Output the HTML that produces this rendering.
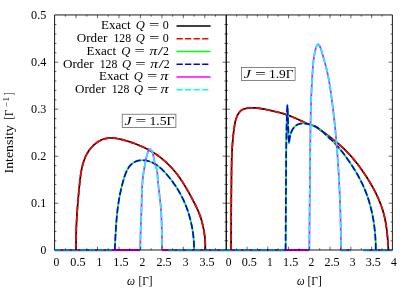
<!DOCTYPE html>
<html><head><meta charset="utf-8"><title>plot</title>
<style>html,body{margin:0;padding:0;background:#fff;overflow:hidden}svg{display:block;opacity:0.999;will-change:transform}text{font-family:"Liberation Serif",serif;fill:#000}.i{font-style:italic}</style></head><body>
<svg width="415" height="291" viewBox="0 0 415 291">
<rect width="415" height="291" fill="#fff"/>
<path d="M54.60,250.10H114.50" stroke="#f0f" stroke-width="2.20"/>
<path d="M54.60,250.10H114.50" stroke="#0ff" stroke-width="2.20" stroke-dasharray="6.25 2.3"/>
<path d="M114.50,250.10H140.00" stroke="#f0f" stroke-width="2.20"/>
<path d="M162.00,250.10H168.50" stroke="#f0f" stroke-width="2.20"/>
<path d="M168.50,250.10H226.25" stroke="#f0f" stroke-width="2.20"/>
<path d="M168.50,250.10H226.25" stroke="#0ff" stroke-width="2.20" stroke-dasharray="6.25 2.3"/>
<path d="M226.25,250.10H285.00" stroke="#f0f" stroke-width="2.20"/>
<path d="M226.25,250.10H285.00" stroke="#0ff" stroke-width="2.20" stroke-dasharray="6.25 2.3"/>
<path d="M285.00,250.10H309.00" stroke="#f0f" stroke-width="2.20"/>
<path d="M340.50,250.10H351.00" stroke="#f0f" stroke-width="2.20"/>
<path d="M340.50,250.10H351.00" stroke="#0ff" stroke-width="2.20" stroke-dasharray="6.25 2.3"/>
<path d="M363.50,250.10H392.40" stroke="#f0f" stroke-width="2.20"/>
<path d="M363.50,250.10H392.40" stroke="#0ff" stroke-width="2.20" stroke-dasharray="6.25 2.3"/>
<path d="M76.05,250.00L76.05,248.66L76.05,247.32L76.05,245.98L76.05,244.65L76.05,243.32L76.05,242.00L76.05,240.68L76.05,239.36L76.07,238.04L76.09,236.73L76.11,235.41L76.14,234.10L76.17,232.80L76.21,231.49L76.25,230.19L76.29,228.88L76.34,227.58L76.39,226.28L76.44,224.99L76.50,223.69L76.56,222.39L76.62,221.10L76.69,219.80L76.76,218.51L76.83,217.22L76.91,215.92L76.99,214.63L77.07,213.34L77.16,212.04L77.24,210.75L77.33,209.45L77.43,208.16L77.52,206.86L77.62,205.57L77.72,204.27L77.83,202.97L77.94,201.67L78.04,200.37L78.16,199.06L78.27,197.76L78.39,196.45L78.51,195.14L78.63,193.83L78.75,192.51L78.87,191.20L79.00,189.88L79.13,188.55L79.26,187.23L79.40,185.90L79.53,184.57L79.67,183.23L79.81,181.90L79.96,180.56L80.11,179.22L80.28,177.88L80.45,176.55L80.63,175.21L80.83,173.88L81.04,172.56L81.27,171.24L81.51,169.93L81.78,168.62L82.06,167.33L82.36,166.04L82.69,164.76L83.05,163.50L83.43,162.24L83.83,161.00L84.27,159.78L84.74,158.57L85.23,157.37L85.77,156.20L86.34,155.04L86.94,153.90L87.58,152.78L88.26,151.68L88.99,150.60L89.75,149.54L90.56,148.51L91.41,147.51L92.31,146.53L93.24,145.60L94.20,144.69L95.21,143.84L96.24,143.02L97.31,142.26L98.40,141.54L99.52,140.89L100.67,140.29L101.84,139.76L103.03,139.30L104.24,138.91L105.46,138.59L106.70,138.34L107.96,138.16L109.23,138.05L110.51,138.00L111.79,138.01L113.09,138.06L114.40,138.17L115.71,138.33L117.02,138.52L118.34,138.76L119.65,139.03L120.97,139.33L122.29,139.65L123.60,140.00L124.91,140.37L126.22,140.75L127.51,141.15L128.80,141.55L130.08,141.97L131.35,142.39L132.62,142.83L133.87,143.27L135.12,143.73L136.36,144.20L137.59,144.68L138.81,145.17L140.03,145.68L141.23,146.20L142.43,146.73L143.61,147.28L144.79,147.84L145.96,148.42L147.12,149.01L148.27,149.61L149.41,150.23L150.54,150.87L151.66,151.52L152.77,152.19L153.87,152.88L154.96,153.58L156.04,154.30L157.11,155.03L158.17,155.79L159.21,156.56L160.25,157.35L161.28,158.16L162.30,158.98L163.30,159.82L164.30,160.67L165.28,161.54L166.25,162.43L167.21,163.33L168.15,164.24L169.09,165.17L170.01,166.11L170.92,167.06L171.81,168.03L172.70,169.00L173.57,169.99L174.42,170.99L175.27,172.00L176.10,173.03L176.91,174.06L177.72,175.10L178.50,176.15L179.28,177.21L180.04,178.28L180.78,179.36L181.51,180.44L182.23,181.53L182.94,182.63L183.64,183.74L184.32,184.85L185.00,185.97L185.67,187.09L186.33,188.22L186.98,189.35L187.62,190.49L188.26,191.63L188.90,192.77L189.53,193.92L190.16,195.07L190.78,196.22L191.40,197.37L192.02,198.52L192.64,199.68L193.25,200.84L193.87,202.00L194.47,203.16L195.07,204.33L195.65,205.50L196.23,206.68L196.79,207.86L197.34,209.05L197.87,210.25L198.38,211.46L198.87,212.67L199.35,213.90L199.80,215.13L200.24,216.37L200.66,217.61L201.06,218.86L201.44,220.12L201.81,221.38L202.15,222.65L202.48,223.92L202.79,225.20L203.09,226.48L203.36,227.77L203.62,229.06L203.86,230.36L204.08,231.66L204.28,232.96L204.46,234.26L204.63,235.57L204.78,236.88L204.91,238.19L205.02,239.50L205.12,240.81L205.20,242.12L205.26,243.44L205.30,244.75L205.30,246.06L205.30,247.38L205.30,248.69L205.30,250.00" fill="none" stroke="#000" stroke-width="1.70" stroke-linejoin="round"/>
<path d="M76.05,250.00L76.05,248.66L76.05,247.32L76.05,245.98L76.05,244.65L76.05,243.32L76.05,242.00L76.05,240.68L76.05,239.36L76.07,238.04L76.09,236.73L76.11,235.41L76.14,234.10L76.17,232.80L76.21,231.49L76.25,230.19L76.29,228.88L76.34,227.58L76.39,226.28L76.44,224.99L76.50,223.69L76.56,222.39L76.62,221.10L76.69,219.80L76.76,218.51L76.83,217.22L76.91,215.92L76.99,214.63L77.07,213.34L77.16,212.04L77.24,210.75L77.33,209.45L77.43,208.16L77.52,206.86L77.62,205.57L77.72,204.27L77.83,202.97L77.94,201.67L78.04,200.37L78.16,199.06L78.27,197.76L78.39,196.45L78.51,195.14L78.63,193.83L78.75,192.51L78.87,191.20L79.00,189.88L79.13,188.55L79.26,187.23L79.40,185.90L79.53,184.57L79.67,183.23L79.81,181.90L79.96,180.56L80.11,179.22L80.28,177.88L80.45,176.55L80.63,175.21L80.83,173.88L81.04,172.56L81.27,171.24L81.51,169.93L81.78,168.62L82.06,167.33L82.36,166.04L82.69,164.76L83.05,163.50L83.43,162.24L83.83,161.00L84.27,159.78L84.74,158.57L85.23,157.37L85.77,156.20L86.34,155.04L86.94,153.90L87.58,152.78L88.26,151.68L88.99,150.60L89.75,149.54L90.56,148.51L91.41,147.51L92.31,146.53L93.24,145.60L94.20,144.69L95.21,143.84L96.24,143.02L97.31,142.26L98.40,141.54L99.52,140.89L100.67,140.29L101.84,139.76L103.03,139.30L104.24,138.91L105.46,138.59L106.70,138.34L107.96,138.16L109.23,138.05L110.51,138.00L111.79,138.01L113.09,138.06L114.40,138.17L115.71,138.33L117.02,138.52L118.34,138.76L119.65,139.03L120.97,139.33L122.29,139.65L123.60,140.00L124.91,140.37L126.22,140.75L127.51,141.15L128.80,141.55L130.08,141.97L131.35,142.39L132.62,142.83L133.87,143.27L135.12,143.73L136.36,144.20L137.59,144.68L138.81,145.17L140.03,145.68L141.23,146.20L142.43,146.73L143.61,147.28L144.79,147.84L145.96,148.42L147.12,149.01L148.27,149.61L149.41,150.23L150.54,150.87L151.66,151.52L152.77,152.19L153.87,152.88L154.96,153.58L156.04,154.30L157.11,155.03L158.17,155.79L159.21,156.56L160.25,157.35L161.28,158.16L162.30,158.98L163.30,159.82L164.30,160.67L165.28,161.54L166.25,162.43L167.21,163.33L168.15,164.24L169.09,165.17L170.01,166.11L170.92,167.06L171.81,168.03L172.70,169.00L173.57,169.99L174.42,170.99L175.27,172.00L176.10,173.03L176.91,174.06L177.72,175.10L178.50,176.15L179.28,177.21L180.04,178.28L180.78,179.36L181.51,180.44L182.23,181.53L182.94,182.63L183.64,183.74L184.32,184.85L185.00,185.97L185.67,187.09L186.33,188.22L186.98,189.35L187.62,190.49L188.26,191.63L188.90,192.77L189.53,193.92L190.16,195.07L190.78,196.22L191.40,197.37L192.02,198.52L192.64,199.68L193.25,200.84L193.87,202.00L194.47,203.16L195.07,204.33L195.65,205.50L196.23,206.68L196.79,207.86L197.34,209.05L197.87,210.25L198.38,211.46L198.87,212.67L199.35,213.90L199.80,215.13L200.24,216.37L200.66,217.61L201.06,218.86L201.44,220.12L201.81,221.38L202.15,222.65L202.48,223.92L202.79,225.20L203.09,226.48L203.36,227.77L203.62,229.06L203.86,230.36L204.08,231.66L204.28,232.96L204.46,234.26L204.63,235.57L204.78,236.88L204.91,238.19L205.02,239.50L205.12,240.81L205.20,242.12L205.26,243.44L205.30,244.75L205.30,246.06L205.30,247.38L205.30,248.69L205.30,250.00" fill="none" stroke="#f00" stroke-width="1.70" stroke-dasharray="6.8 2.4" stroke-linejoin="round"/>
<path d="M114.80,250.00L114.85,249.02L114.89,248.04L114.94,247.06L114.98,246.08L115.03,245.10L115.07,244.13L115.12,243.16L115.17,242.18L115.21,241.21L115.26,240.24L115.30,239.27L115.35,238.31L115.40,237.34L115.45,236.37L115.50,235.41L115.55,234.45L115.60,233.48L115.66,232.52L115.71,231.56L115.77,230.60L115.82,229.65L115.88,228.69L115.95,227.73L116.01,226.77L116.07,225.82L116.14,224.86L116.21,223.91L116.28,222.95L116.35,222.00L116.43,221.05L116.51,220.10L116.59,219.14L116.67,218.19L116.76,217.24L116.85,216.29L116.94,215.34L117.04,214.39L117.14,213.44L117.24,212.49L117.35,211.54L117.46,210.59L117.57,209.64L117.69,208.69L117.81,207.74L117.93,206.79L118.06,205.84L118.19,204.89L118.33,203.94L118.47,202.99L118.62,202.04L118.77,201.09L118.93,200.14L119.09,199.19L119.25,198.23L119.42,197.28L119.60,196.33L119.78,195.38L119.97,194.42L120.16,193.47L120.35,192.51L120.56,191.56L120.77,190.60L120.98,189.64L121.20,188.68L121.43,187.73L121.66,186.77L121.90,185.81L122.14,184.84L122.39,183.88L122.65,182.92L122.91,181.95L123.18,180.99L123.46,180.02L123.75,179.06L124.04,178.09L124.34,177.13L124.66,176.17L124.98,175.22L125.33,174.28L125.68,173.35L126.06,172.43L126.45,171.54L126.86,170.66L127.30,169.80L127.75,168.96L128.23,168.15L128.74,167.37L129.28,166.62L129.84,165.90L130.44,165.22L131.06,164.57L131.72,163.96L132.42,163.39L133.15,162.87L133.91,162.39L134.71,161.95L135.54,161.56L136.39,161.22L137.27,160.93L138.17,160.69L139.09,160.50L140.03,160.36L140.97,160.27L141.93,160.23L142.90,160.24L143.87,160.29L144.84,160.39L145.82,160.53L146.79,160.72L147.75,160.94L148.71,161.20L149.66,161.50L150.59,161.84L151.51,162.21L152.41,162.61L153.29,163.04L154.16,163.50L155.01,163.98L155.85,164.50L156.67,165.03L157.47,165.60L158.26,166.18L159.04,166.79L159.80,167.41L160.55,168.06L161.29,168.72L162.01,169.40L162.72,170.09L163.43,170.79L164.12,171.51L164.80,172.24L165.47,172.97L166.13,173.71L166.78,174.46L167.42,175.22L168.06,175.98L168.68,176.74L169.30,177.50L169.91,178.26L170.52,179.03L171.11,179.80L171.70,180.57L172.28,181.35L172.85,182.12L173.42,182.90L173.97,183.69L174.52,184.47L175.06,185.26L175.60,186.06L176.13,186.86L176.64,187.66L177.15,188.46L177.66,189.27L178.15,190.08L178.64,190.90L179.12,191.72L179.60,192.54L180.06,193.37L180.52,194.21L180.97,195.05L181.41,195.89L181.85,196.74L182.28,197.59L182.70,198.45L183.11,199.32L183.52,200.18L183.92,201.06L184.31,201.94L184.69,202.82L185.07,203.71L185.43,204.60L185.79,205.49L186.15,206.39L186.49,207.30L186.83,208.20L187.16,209.12L187.48,210.03L187.80,210.95L188.11,211.87L188.41,212.79L188.70,213.72L188.98,214.65L189.26,215.59L189.53,216.52L189.79,217.46L190.05,218.40L190.29,219.34L190.53,220.29L190.76,221.24L190.99,222.19L191.20,223.14L191.41,224.09L191.61,225.04L191.80,226.00L191.99,226.96L192.16,227.92L192.33,228.88L192.49,229.84L192.65,230.80L192.79,231.76L192.93,232.72L193.06,233.68L193.18,234.65L193.29,235.61L193.40,236.57L193.50,237.54L193.59,238.50L193.67,239.46L193.74,240.43L193.81,241.39L193.87,242.35L193.92,243.31L193.96,244.27L194.00,245.23L194.02,246.18L194.04,247.14L194.05,248.10L194.05,249.05L194.05,250.00" fill="none" stroke="#0f0" stroke-width="1.70" stroke-linejoin="round"/>
<path d="M114.80,250.00L114.85,249.02L114.89,248.04L114.94,247.06L114.98,246.08L115.03,245.10L115.07,244.13L115.12,243.16L115.17,242.18L115.21,241.21L115.26,240.24L115.30,239.27L115.35,238.31L115.40,237.34L115.45,236.37L115.50,235.41L115.55,234.45L115.60,233.48L115.66,232.52L115.71,231.56L115.77,230.60L115.82,229.65L115.88,228.69L115.95,227.73L116.01,226.77L116.07,225.82L116.14,224.86L116.21,223.91L116.28,222.95L116.35,222.00L116.43,221.05L116.51,220.10L116.59,219.14L116.67,218.19L116.76,217.24L116.85,216.29L116.94,215.34L117.04,214.39L117.14,213.44L117.24,212.49L117.35,211.54L117.46,210.59L117.57,209.64L117.69,208.69L117.81,207.74L117.93,206.79L118.06,205.84L118.19,204.89L118.33,203.94L118.47,202.99L118.62,202.04L118.77,201.09L118.93,200.14L119.09,199.19L119.25,198.23L119.42,197.28L119.60,196.33L119.78,195.38L119.97,194.42L120.16,193.47L120.35,192.51L120.56,191.56L120.77,190.60L120.98,189.64L121.20,188.68L121.43,187.73L121.66,186.77L121.90,185.81L122.14,184.84L122.39,183.88L122.65,182.92L122.91,181.95L123.18,180.99L123.46,180.02L123.75,179.06L124.04,178.09L124.34,177.13L124.66,176.17L124.98,175.22L125.33,174.28L125.68,173.35L126.06,172.43L126.45,171.54L126.86,170.66L127.30,169.80L127.75,168.96L128.23,168.15L128.74,167.37L129.28,166.62L129.84,165.90L130.44,165.22L131.06,164.57L131.72,163.96L132.42,163.39L133.15,162.87L133.91,162.39L134.71,161.95L135.54,161.56L136.39,161.22L137.27,160.93L138.17,160.69L139.09,160.50L140.03,160.36L140.97,160.27L141.93,160.23L142.90,160.24L143.87,160.29L144.84,160.39L145.82,160.53L146.79,160.72L147.75,160.94L148.71,161.20L149.66,161.50L150.59,161.84L151.51,162.21L152.41,162.61L153.29,163.04L154.16,163.50L155.01,163.98L155.85,164.50L156.67,165.03L157.47,165.60L158.26,166.18L159.04,166.79L159.80,167.41L160.55,168.06L161.29,168.72L162.01,169.40L162.72,170.09L163.43,170.79L164.12,171.51L164.80,172.24L165.47,172.97L166.13,173.71L166.78,174.46L167.42,175.22L168.06,175.98L168.68,176.74L169.30,177.50L169.91,178.26L170.52,179.03L171.11,179.80L171.70,180.57L172.28,181.35L172.85,182.12L173.42,182.90L173.97,183.69L174.52,184.47L175.06,185.26L175.60,186.06L176.13,186.86L176.64,187.66L177.15,188.46L177.66,189.27L178.15,190.08L178.64,190.90L179.12,191.72L179.60,192.54L180.06,193.37L180.52,194.21L180.97,195.05L181.41,195.89L181.85,196.74L182.28,197.59L182.70,198.45L183.11,199.32L183.52,200.18L183.92,201.06L184.31,201.94L184.69,202.82L185.07,203.71L185.43,204.60L185.79,205.49L186.15,206.39L186.49,207.30L186.83,208.20L187.16,209.12L187.48,210.03L187.80,210.95L188.11,211.87L188.41,212.79L188.70,213.72L188.98,214.65L189.26,215.59L189.53,216.52L189.79,217.46L190.05,218.40L190.29,219.34L190.53,220.29L190.76,221.24L190.99,222.19L191.20,223.14L191.41,224.09L191.61,225.04L191.80,226.00L191.99,226.96L192.16,227.92L192.33,228.88L192.49,229.84L192.65,230.80L192.79,231.76L192.93,232.72L193.06,233.68L193.18,234.65L193.29,235.61L193.40,236.57L193.50,237.54L193.59,238.50L193.67,239.46L193.74,240.43L193.81,241.39L193.87,242.35L193.92,243.31L193.96,244.27L194.00,245.23L194.02,246.18L194.04,247.14L194.05,248.10L194.05,249.05L194.05,250.00" fill="none" stroke="#00f" stroke-width="1.70" stroke-dasharray="6.8 2.4" stroke-linejoin="round"/>
<path d="M140.30,250.00L140.30,249.06L140.30,248.13L140.30,247.19L140.31,246.25L140.32,245.32L140.33,244.38L140.34,243.45L140.36,242.51L140.37,241.57L140.39,240.64L140.41,239.70L140.43,238.77L140.45,237.83L140.48,236.90L140.50,235.97L140.53,235.03L140.56,234.10L140.59,233.16L140.62,232.23L140.65,231.29L140.68,230.36L140.72,229.43L140.75,228.49L140.78,227.56L140.82,226.63L140.85,225.69L140.89,224.76L140.93,223.82L140.96,222.89L141.00,221.96L141.04,221.02L141.07,220.09L141.11,219.15L141.14,218.22L141.18,217.28L141.22,216.35L141.25,215.42L141.29,214.48L141.32,213.55L141.35,212.61L141.39,211.68L141.42,210.74L141.45,209.80L141.48,208.87L141.51,207.93L141.53,207.00L141.56,206.06L141.58,205.12L141.61,204.19L141.63,203.25L141.65,202.31L141.68,201.38L141.70,200.44L141.72,199.50L141.74,198.56L141.77,197.63L141.79,196.69L141.81,195.75L141.84,194.81L141.87,193.88L141.90,192.94L141.93,192.00L141.97,191.07L142.01,190.13L142.05,189.20L142.09,188.26L142.14,187.33L142.19,186.39L142.24,185.46L142.30,184.53L142.37,183.59L142.44,182.66L142.51,181.73L142.59,180.80L142.68,179.87L142.77,178.94L142.86,178.01L142.97,177.08L143.08,176.16L143.19,175.23L143.31,174.30L143.45,173.38L143.58,172.46L143.73,171.53L143.88,170.61L144.05,169.69L144.22,168.77L144.39,167.85L144.57,166.94L144.75,166.02L144.93,165.11L145.10,164.20L145.26,163.29L145.43,162.38L145.60,161.47L145.76,160.56L145.94,159.65L146.11,158.74L146.30,157.82L146.49,156.90L146.69,155.98L146.91,155.06L147.14,154.13L147.41,153.20L147.74,152.27L148.14,151.35L148.63,150.46L149.21,149.70L149.83,149.28L150.46,149.36L151.07,149.90L151.62,150.72L152.09,151.63L152.47,152.55L152.78,153.48L153.05,154.41L153.27,155.33L153.47,156.26L153.66,157.18L153.83,158.10L153.99,159.02L154.16,159.94L154.32,160.85L154.50,161.75L154.69,162.66L154.90,163.56L155.14,164.45L155.41,165.34L155.71,166.23L156.01,167.12L156.32,168.01L156.60,168.90L156.85,169.80L157.05,170.71L157.20,171.63L157.31,172.56L157.40,173.49L157.46,174.43L157.51,175.37L157.57,176.31L157.63,177.24L157.69,178.18L157.77,179.12L157.84,180.05L157.92,180.98L158.01,181.92L158.10,182.85L158.19,183.78L158.29,184.71L158.39,185.64L158.49,186.57L158.59,187.50L158.70,188.43L158.81,189.36L158.92,190.29L159.03,191.22L159.15,192.15L159.26,193.08L159.37,194.00L159.48,194.93L159.60,195.86L159.71,196.79L159.82,197.71L159.93,198.64L160.03,199.57L160.14,200.50L160.24,201.42L160.34,202.35L160.44,203.28L160.53,204.21L160.62,205.14L160.71,206.07L160.79,207.00L160.86,207.93L160.94,208.86L161.00,209.79L161.07,210.73L161.13,211.66L161.19,212.59L161.24,213.53L161.29,214.46L161.34,215.39L161.39,216.33L161.43,217.26L161.47,218.20L161.50,219.13L161.54,220.07L161.57,221.00L161.60,221.94L161.63,222.87L161.66,223.81L161.68,224.75L161.71,225.68L161.73,226.62L161.75,227.56L161.77,228.49L161.79,229.43L161.81,230.36L161.83,231.30L161.84,232.24L161.86,233.17L161.88,234.11L161.90,235.05L161.91,235.98L161.93,236.92L161.95,237.85L161.97,238.79L161.99,239.73L162.01,240.66L162.03,241.60L162.05,242.53L162.08,243.47L162.10,244.40L162.13,245.33L162.16,246.27L162.19,247.20L162.23,248.13L162.26,249.07L162.30,250.00" fill="none" stroke="#f0f" stroke-width="1.70" stroke-linejoin="round"/>
<path d="M140.30,250.00L140.30,249.06L140.30,248.13L140.30,247.19L140.31,246.25L140.32,245.32L140.33,244.38L140.34,243.45L140.36,242.51L140.37,241.57L140.39,240.64L140.41,239.70L140.43,238.77L140.45,237.83L140.48,236.90L140.50,235.97L140.53,235.03L140.56,234.10L140.59,233.16L140.62,232.23L140.65,231.29L140.68,230.36L140.72,229.43L140.75,228.49L140.78,227.56L140.82,226.63L140.85,225.69L140.89,224.76L140.93,223.82L140.96,222.89L141.00,221.96L141.04,221.02L141.07,220.09L141.11,219.15L141.14,218.22L141.18,217.28L141.22,216.35L141.25,215.42L141.29,214.48L141.32,213.55L141.35,212.61L141.39,211.68L141.42,210.74L141.45,209.80L141.48,208.87L141.51,207.93L141.53,207.00L141.56,206.06L141.58,205.12L141.61,204.19L141.63,203.25L141.65,202.31L141.68,201.38L141.70,200.44L141.72,199.50L141.74,198.56L141.77,197.63L141.79,196.69L141.81,195.75L141.84,194.81L141.87,193.88L141.90,192.94L141.93,192.00L141.97,191.07L142.01,190.13L142.05,189.20L142.09,188.26L142.14,187.33L142.19,186.39L142.24,185.46L142.30,184.53L142.37,183.59L142.44,182.66L142.51,181.73L142.59,180.80L142.68,179.87L142.77,178.94L142.86,178.01L142.97,177.08L143.08,176.16L143.19,175.23L143.31,174.30L143.45,173.38L143.58,172.46L143.73,171.53L143.88,170.61L144.05,169.69L144.22,168.77L144.39,167.85L144.57,166.94L144.75,166.02L144.93,165.11L145.10,164.20L145.26,163.29L145.43,162.38L145.60,161.47L145.76,160.56L145.94,159.65L146.11,158.74L146.30,157.82L146.49,156.90L146.69,155.98L146.91,155.06L147.14,154.13L147.41,153.20L147.74,152.27L148.14,151.35L148.63,150.46L149.21,149.70L149.83,149.28L150.46,149.36L151.07,149.90L151.62,150.72L152.09,151.63L152.47,152.55L152.78,153.48L153.05,154.41L153.27,155.33L153.47,156.26L153.66,157.18L153.83,158.10L153.99,159.02L154.16,159.94L154.32,160.85L154.50,161.75L154.69,162.66L154.90,163.56L155.14,164.45L155.41,165.34L155.71,166.23L156.01,167.12L156.32,168.01L156.60,168.90L156.85,169.80L157.05,170.71L157.20,171.63L157.31,172.56L157.40,173.49L157.46,174.43L157.51,175.37L157.57,176.31L157.63,177.24L157.69,178.18L157.77,179.12L157.84,180.05L157.92,180.98L158.01,181.92L158.10,182.85L158.19,183.78L158.29,184.71L158.39,185.64L158.49,186.57L158.59,187.50L158.70,188.43L158.81,189.36L158.92,190.29L159.03,191.22L159.15,192.15L159.26,193.08L159.37,194.00L159.48,194.93L159.60,195.86L159.71,196.79L159.82,197.71L159.93,198.64L160.03,199.57L160.14,200.50L160.24,201.42L160.34,202.35L160.44,203.28L160.53,204.21L160.62,205.14L160.71,206.07L160.79,207.00L160.86,207.93L160.94,208.86L161.00,209.79L161.07,210.73L161.13,211.66L161.19,212.59L161.24,213.53L161.29,214.46L161.34,215.39L161.39,216.33L161.43,217.26L161.47,218.20L161.50,219.13L161.54,220.07L161.57,221.00L161.60,221.94L161.63,222.87L161.66,223.81L161.68,224.75L161.71,225.68L161.73,226.62L161.75,227.56L161.77,228.49L161.79,229.43L161.81,230.36L161.83,231.30L161.84,232.24L161.86,233.17L161.88,234.11L161.90,235.05L161.91,235.98L161.93,236.92L161.95,237.85L161.97,238.79L161.99,239.73L162.01,240.66L162.03,241.60L162.05,242.53L162.08,243.47L162.10,244.40L162.13,245.33L162.16,246.27L162.19,247.20L162.23,248.13L162.26,249.07L162.30,250.00" fill="none" stroke="#0ff" stroke-width="1.70" stroke-dasharray="6.8 2.4" stroke-linejoin="round"/>
<path d="M231.05,250.00L231.05,248.31L231.06,246.63L231.06,244.94L231.07,243.26L231.07,241.57L231.08,239.89L231.08,238.20L231.09,236.52L231.10,234.83L231.10,233.14L231.11,231.46L231.12,229.77L231.12,228.09L231.13,226.40L231.14,224.71L231.14,223.03L231.15,221.34L231.16,219.65L231.17,217.97L231.18,216.28L231.19,214.59L231.20,212.91L231.20,211.22L231.21,209.53L231.22,207.85L231.23,206.16L231.25,204.47L231.26,202.79L231.27,201.10L231.28,199.41L231.29,197.73L231.30,196.04L231.31,194.35L231.33,192.67L231.34,190.98L231.35,189.29L231.37,187.61L231.38,185.92L231.39,184.24L231.41,182.55L231.42,180.86L231.44,179.18L231.45,177.49L231.47,175.81L231.48,174.12L231.50,172.44L231.52,170.75L231.54,169.07L231.57,167.38L231.59,165.70L231.63,164.01L231.66,162.33L231.70,160.64L231.75,158.96L231.80,157.28L231.86,155.59L231.92,153.91L231.99,152.23L232.07,150.54L232.16,148.86L232.26,147.18L232.37,145.50L232.48,143.82L232.61,142.14L232.75,140.46L232.90,138.78L233.06,137.10L233.24,135.42L233.42,133.74L233.63,132.06L233.84,130.38L234.07,128.71L234.32,127.03L234.58,125.36L234.87,123.69L235.21,122.03L235.60,120.40L236.07,118.79L236.63,117.22L237.29,115.68L238.06,114.20L238.97,112.76L240.03,111.42L241.27,110.29L242.72,109.45L244.32,108.88L245.99,108.48L247.67,108.18L249.35,107.97L251.02,107.85L252.70,107.81L254.37,107.84L256.05,107.94L257.72,108.09L259.39,108.29L261.06,108.54L262.73,108.83L264.39,109.14L266.05,109.49L267.71,109.84L269.37,110.21L271.02,110.58L272.67,110.96L274.32,111.34L275.96,111.72L277.60,112.12L279.23,112.54L280.85,112.97L282.47,113.42L284.08,113.90L285.68,114.41L287.27,114.95L288.86,115.53L290.43,116.13L292.00,116.76L293.56,117.41L295.11,118.08L296.66,118.76L298.20,119.45L299.73,120.15L301.25,120.86L302.76,121.57L304.27,122.27L305.77,122.96L307.27,123.65L308.79,124.29L310.37,124.83L312.03,125.26L313.69,125.72L315.23,126.37L316.65,127.24L318.00,128.23L319.35,129.23L320.70,130.23L322.06,131.23L323.41,132.23L324.77,133.23L326.13,134.23L327.49,135.24L328.85,136.25L330.20,137.26L331.54,138.29L332.88,139.32L334.21,140.36L335.52,141.41L336.83,142.48L338.12,143.56L339.40,144.66L340.67,145.77L341.91,146.90L343.14,148.05L344.36,149.21L345.55,150.40L346.73,151.59L347.90,152.81L349.05,154.04L350.18,155.28L351.30,156.54L352.41,157.81L353.50,159.09L354.57,160.39L355.64,161.70L356.68,163.02L357.72,164.35L358.74,165.70L359.75,167.05L360.74,168.42L361.72,169.79L362.69,171.18L363.65,172.57L364.60,173.97L365.53,175.38L366.45,176.80L367.36,178.22L368.26,179.65L369.15,181.09L370.02,182.54L370.88,183.99L371.72,185.46L372.55,186.92L373.36,188.40L374.16,189.89L374.93,191.38L375.69,192.88L376.43,194.40L377.15,195.91L377.85,197.44L378.53,198.98L379.19,200.52L379.83,202.08L380.44,203.64L381.03,205.21L381.59,206.80L382.13,208.39L382.64,209.99L383.13,211.60L383.59,213.22L384.02,214.85L384.42,216.49L384.79,218.14L385.14,219.80L385.47,221.46L385.77,223.13L386.04,224.81L386.30,226.49L386.54,228.18L386.75,229.86L386.95,231.55L387.14,233.25L387.31,234.94L387.47,236.63L387.61,238.31L387.74,240.00L387.87,241.68L387.99,243.36L388.10,245.03L388.20,246.69L388.30,248.35L388.40,250.00" fill="none" stroke="#000" stroke-width="1.70" stroke-linejoin="round"/>
<path d="M231.05,250.00L231.05,248.31L231.06,246.63L231.06,244.94L231.07,243.26L231.07,241.57L231.08,239.89L231.08,238.20L231.09,236.52L231.10,234.83L231.10,233.14L231.11,231.46L231.12,229.77L231.12,228.09L231.13,226.40L231.14,224.71L231.14,223.03L231.15,221.34L231.16,219.65L231.17,217.97L231.18,216.28L231.19,214.59L231.20,212.91L231.20,211.22L231.21,209.53L231.22,207.85L231.23,206.16L231.25,204.47L231.26,202.79L231.27,201.10L231.28,199.41L231.29,197.73L231.30,196.04L231.31,194.35L231.33,192.67L231.34,190.98L231.35,189.29L231.37,187.61L231.38,185.92L231.39,184.24L231.41,182.55L231.42,180.86L231.44,179.18L231.45,177.49L231.47,175.81L231.48,174.12L231.50,172.44L231.52,170.75L231.54,169.07L231.57,167.38L231.59,165.70L231.63,164.01L231.66,162.33L231.70,160.64L231.75,158.96L231.80,157.28L231.86,155.59L231.92,153.91L231.99,152.23L232.07,150.54L232.16,148.86L232.26,147.18L232.37,145.50L232.48,143.82L232.61,142.14L232.75,140.46L232.90,138.78L233.06,137.10L233.24,135.42L233.42,133.74L233.63,132.06L233.84,130.38L234.07,128.71L234.32,127.03L234.58,125.36L234.87,123.69L235.21,122.03L235.60,120.40L236.07,118.79L236.63,117.22L237.29,115.68L238.06,114.20L238.97,112.76L240.03,111.42L241.27,110.29L242.72,109.45L244.32,108.88L245.99,108.48L247.67,108.18L249.35,107.97L251.02,107.85L252.70,107.81L254.37,107.84L256.05,107.94L257.72,108.09L259.39,108.29L261.06,108.54L262.73,108.83L264.39,109.14L266.05,109.49L267.71,109.84L269.37,110.21L271.02,110.58L272.67,110.96L274.32,111.34L275.96,111.72L277.60,112.12L279.23,112.54L280.85,112.97L282.47,113.42L284.08,113.90L285.68,114.41L287.27,114.95L288.86,115.53L290.43,116.13L292.00,116.76L293.56,117.41L295.11,118.08L296.66,118.76L298.20,119.45L299.73,120.15L301.25,120.86L302.76,121.57L304.27,122.27L305.77,122.96L307.27,123.65L308.79,124.29L310.37,124.83L312.03,125.26L313.69,125.72L315.23,126.37L316.65,127.24L318.00,128.23L319.35,129.23L320.70,130.23L322.06,131.23L323.41,132.23L324.77,133.23L326.13,134.23L327.49,135.24L328.85,136.25L330.20,137.26L331.54,138.29L332.88,139.32L334.21,140.36L335.52,141.41L336.83,142.48L338.12,143.56L339.40,144.66L340.67,145.77L341.91,146.90L343.14,148.05L344.36,149.21L345.55,150.40L346.73,151.59L347.90,152.81L349.05,154.04L350.18,155.28L351.30,156.54L352.41,157.81L353.50,159.09L354.57,160.39L355.64,161.70L356.68,163.02L357.72,164.35L358.74,165.70L359.75,167.05L360.74,168.42L361.72,169.79L362.69,171.18L363.65,172.57L364.60,173.97L365.53,175.38L366.45,176.80L367.36,178.22L368.26,179.65L369.15,181.09L370.02,182.54L370.88,183.99L371.72,185.46L372.55,186.92L373.36,188.40L374.16,189.89L374.93,191.38L375.69,192.88L376.43,194.40L377.15,195.91L377.85,197.44L378.53,198.98L379.19,200.52L379.83,202.08L380.44,203.64L381.03,205.21L381.59,206.80L382.13,208.39L382.64,209.99L383.13,211.60L383.59,213.22L384.02,214.85L384.42,216.49L384.79,218.14L385.14,219.80L385.47,221.46L385.77,223.13L386.04,224.81L386.30,226.49L386.54,228.18L386.75,229.86L386.95,231.55L387.14,233.25L387.31,234.94L387.47,236.63L387.61,238.31L387.74,240.00L387.87,241.68L387.99,243.36L388.10,245.03L388.20,246.69L388.30,248.35L388.40,250.00" fill="none" stroke="#f00" stroke-width="1.70" stroke-dasharray="6.8 2.4" stroke-linejoin="round"/>
<path d="M285.60,250.00L285.90,200.00L286.20,150.00L286.60,125.00L287.10,110.00L287.40,105.40L287.70,110.00L288.10,125.00L288.60,138.00L289.05,143.50L289.05,143.50L289.11,142.84L289.18,142.17L289.25,141.49L289.33,140.80L289.41,140.10L289.50,139.40L289.61,138.69L289.72,137.98L289.84,137.27L289.98,136.56L290.13,135.85L290.30,135.15L290.49,134.44L290.69,133.75L290.92,133.06L291.17,132.38L291.43,131.71L291.73,131.05L292.04,130.40L292.39,129.77L292.76,129.16L293.15,128.56L293.57,127.99L294.01,127.44L294.47,126.92L294.96,126.43L295.47,125.97L296.00,125.54L296.56,125.15L297.13,124.79L297.73,124.48L298.35,124.21L298.99,123.99L299.65,123.81L300.32,123.67L301.01,123.57L301.71,123.50L302.42,123.47L303.14,123.46L303.86,123.49L304.59,123.54L305.32,123.61L306.05,123.70L306.77,123.81L307.49,123.94L308.20,124.08L308.91,124.24L309.62,124.42L310.32,124.61L311.01,124.82L311.69,125.04L312.37,125.28L313.04,125.53L313.71,125.80L314.37,126.08L315.01,126.38L315.65,126.69L316.28,127.02L316.90,127.36L317.51,127.72L318.12,128.09L318.71,128.47L319.29,128.86L319.85,129.27L320.41,129.70L320.96,130.13L321.49,130.58L322.02,131.04L322.54,131.50L323.05,131.98L323.56,132.46L324.06,132.94L324.57,133.43L325.07,133.92L325.57,134.41L326.08,134.90L326.59,135.39L327.10,135.87L327.61,136.36L328.13,136.84L328.65,137.33L329.17,137.81L329.69,138.29L330.21,138.78L330.72,139.26L331.24,139.75L331.75,140.24L332.27,140.73L332.78,141.23L333.28,141.72L333.78,142.23L334.28,142.73L334.77,143.24L335.26,143.75L335.74,144.26L336.22,144.78L336.70,145.30L337.17,145.82L337.64,146.35L338.11,146.88L338.57,147.41L339.03,147.95L339.48,148.49L339.93,149.03L340.38,149.57L340.82,150.12L341.27,150.67L341.71,151.22L342.14,151.77L342.57,152.33L343.00,152.88L343.43,153.44L343.86,154.01L344.28,154.57L344.70,155.14L345.12,155.71L345.53,156.28L345.95,156.85L346.36,157.42L346.77,158.00L347.18,158.57L347.58,159.15L347.99,159.73L348.39,160.31L348.79,160.90L349.19,161.48L349.59,162.07L349.98,162.65L350.38,163.24L350.77,163.83L351.16,164.42L351.55,165.01L351.94,165.60L352.33,166.20L352.71,166.79L353.09,167.39L353.47,167.99L353.85,168.59L354.22,169.19L354.60,169.79L354.97,170.40L355.33,171.00L355.70,171.61L356.06,172.22L356.42,172.82L356.78,173.44L357.14,174.05L357.49,174.66L357.84,175.28L358.19,175.89L358.53,176.51L358.87,177.13L359.21,177.75L359.54,178.38L359.87,179.00L360.20,179.63L360.53,180.26L360.85,180.89L361.17,181.52L361.48,182.15L361.79,182.78L362.10,183.42L362.40,184.06L362.70,184.69L363.00,185.34L363.29,185.98L363.58,186.62L363.86,187.27L364.14,187.91L364.42,188.56L364.69,189.21L364.96,189.87L365.22,190.52L365.49,191.17L365.74,191.83L366.00,192.49L366.25,193.15L366.50,193.81L366.74,194.47L366.98,195.13L367.22,195.80L367.45,196.46L367.68,197.13L367.90,197.80L368.12,198.47L368.34,199.14L368.56,199.81L368.77,200.48L368.98,201.16L369.18,201.83L369.38,202.51L369.58,203.19L369.77,203.87L369.96,204.55L370.15,205.23L370.33,205.91L370.51,206.59L370.69,207.28L370.87,207.96L371.04,208.65L371.20,209.33L371.37,210.02L371.53,210.71L371.69,211.40L371.84,212.09L371.99,212.78L372.14,213.47L372.28,214.16L372.42,214.86L372.56,215.55L372.70,216.25L372.83,216.94L372.96,217.64L373.08,218.33L373.21,219.03L373.33,219.73L373.44,220.43L373.56,221.13L373.67,221.83L373.77,222.53L373.88,223.23L373.98,223.93L374.08,224.63L374.18,225.33L374.27,226.03L374.36,226.74L374.45,227.44L374.53,228.14L374.61,228.85L374.69,229.55L374.76,230.25L374.84,230.96L374.91,231.66L374.97,232.37L375.04,233.07L375.10,233.78L375.16,234.48L375.22,235.19L375.27,235.90L375.32,236.60L375.37,237.31L375.41,238.01L375.46,238.72L375.50,239.43L375.54,240.13L375.57,240.84L375.60,241.54L375.63,242.25L375.66,242.95L375.69,243.66L375.71,244.37L375.73,245.07L375.75,245.78L375.76,246.48L375.77,247.18L375.78,247.89L375.79,248.59L375.80,249.30L375.80,250.00" fill="none" stroke="#0f0" stroke-width="1.70" stroke-linejoin="round"/>
<path d="M285.60,250.00L285.90,200.00L286.20,150.00L286.60,125.00L287.10,110.00L287.40,105.40L287.70,110.00L288.10,125.00L288.60,138.00L289.05,143.50L289.05,143.50L289.11,142.84L289.18,142.17L289.25,141.49L289.33,140.80L289.41,140.10L289.50,139.40L289.61,138.69L289.72,137.98L289.84,137.27L289.98,136.56L290.13,135.85L290.30,135.15L290.49,134.44L290.69,133.75L290.92,133.06L291.17,132.38L291.43,131.71L291.73,131.05L292.04,130.40L292.39,129.77L292.76,129.16L293.15,128.56L293.57,127.99L294.01,127.44L294.47,126.92L294.96,126.43L295.47,125.97L296.00,125.54L296.56,125.15L297.13,124.79L297.73,124.48L298.35,124.21L298.99,123.99L299.65,123.81L300.32,123.67L301.01,123.57L301.71,123.50L302.42,123.47L303.14,123.46L303.86,123.49L304.59,123.54L305.32,123.61L306.05,123.70L306.77,123.81L307.49,123.94L308.20,124.08L308.91,124.24L309.62,124.42L310.32,124.61L311.01,124.82L311.69,125.04L312.37,125.28L313.04,125.53L313.71,125.80L314.37,126.08L315.01,126.38L315.65,126.69L316.28,127.02L316.90,127.36L317.51,127.72L318.12,128.09L318.71,128.47L319.29,128.86L319.85,129.27L320.41,129.70L320.96,130.13L321.49,130.58L322.02,131.04L322.54,131.50L323.05,131.98L323.56,132.46L324.06,132.94L324.57,133.43L325.07,133.92L325.57,134.41L326.08,134.90L326.59,135.39L327.10,135.87L327.61,136.36L328.13,136.84L328.65,137.33L329.17,137.81L329.69,138.29L330.21,138.78L330.72,139.26L331.24,139.75L331.75,140.24L332.27,140.73L332.78,141.23L333.28,141.72L333.78,142.23L334.28,142.73L334.77,143.24L335.26,143.75L335.74,144.26L336.22,144.78L336.70,145.30L337.17,145.82L337.64,146.35L338.11,146.88L338.57,147.41L339.03,147.95L339.48,148.49L339.93,149.03L340.38,149.57L340.82,150.12L341.27,150.67L341.71,151.22L342.14,151.77L342.57,152.33L343.00,152.88L343.43,153.44L343.86,154.01L344.28,154.57L344.70,155.14L345.12,155.71L345.53,156.28L345.95,156.85L346.36,157.42L346.77,158.00L347.18,158.57L347.58,159.15L347.99,159.73L348.39,160.31L348.79,160.90L349.19,161.48L349.59,162.07L349.98,162.65L350.38,163.24L350.77,163.83L351.16,164.42L351.55,165.01L351.94,165.60L352.33,166.20L352.71,166.79L353.09,167.39L353.47,167.99L353.85,168.59L354.22,169.19L354.60,169.79L354.97,170.40L355.33,171.00L355.70,171.61L356.06,172.22L356.42,172.82L356.78,173.44L357.14,174.05L357.49,174.66L357.84,175.28L358.19,175.89L358.53,176.51L358.87,177.13L359.21,177.75L359.54,178.38L359.87,179.00L360.20,179.63L360.53,180.26L360.85,180.89L361.17,181.52L361.48,182.15L361.79,182.78L362.10,183.42L362.40,184.06L362.70,184.69L363.00,185.34L363.29,185.98L363.58,186.62L363.86,187.27L364.14,187.91L364.42,188.56L364.69,189.21L364.96,189.87L365.22,190.52L365.49,191.17L365.74,191.83L366.00,192.49L366.25,193.15L366.50,193.81L366.74,194.47L366.98,195.13L367.22,195.80L367.45,196.46L367.68,197.13L367.90,197.80L368.12,198.47L368.34,199.14L368.56,199.81L368.77,200.48L368.98,201.16L369.18,201.83L369.38,202.51L369.58,203.19L369.77,203.87L369.96,204.55L370.15,205.23L370.33,205.91L370.51,206.59L370.69,207.28L370.87,207.96L371.04,208.65L371.20,209.33L371.37,210.02L371.53,210.71L371.69,211.40L371.84,212.09L371.99,212.78L372.14,213.47L372.28,214.16L372.42,214.86L372.56,215.55L372.70,216.25L372.83,216.94L372.96,217.64L373.08,218.33L373.21,219.03L373.33,219.73L373.44,220.43L373.56,221.13L373.67,221.83L373.77,222.53L373.88,223.23L373.98,223.93L374.08,224.63L374.18,225.33L374.27,226.03L374.36,226.74L374.45,227.44L374.53,228.14L374.61,228.85L374.69,229.55L374.76,230.25L374.84,230.96L374.91,231.66L374.97,232.37L375.04,233.07L375.10,233.78L375.16,234.48L375.22,235.19L375.27,235.90L375.32,236.60L375.37,237.31L375.41,238.01L375.46,238.72L375.50,239.43L375.54,240.13L375.57,240.84L375.60,241.54L375.63,242.25L375.66,242.95L375.69,243.66L375.71,244.37L375.73,245.07L375.75,245.78L375.76,246.48L375.77,247.18L375.78,247.89L375.79,248.59L375.80,249.30L375.80,250.00" fill="none" stroke="#00f" stroke-width="1.70" stroke-dasharray="6.8 2.4" stroke-linejoin="round"/>
<path d="M309.30,250.00L309.31,248.10L309.33,246.20L309.34,244.31L309.36,242.41L309.37,240.51L309.39,238.61L309.40,236.72L309.42,234.82L309.44,232.92L309.45,231.02L309.47,229.12L309.48,227.23L309.50,225.33L309.52,223.43L309.53,221.53L309.55,219.63L309.57,217.74L309.58,215.84L309.60,213.94L309.62,212.04L309.63,210.15L309.65,208.25L309.67,206.35L309.69,204.45L309.70,202.55L309.72,200.66L309.74,198.76L309.76,196.86L309.78,194.96L309.79,193.06L309.81,191.17L309.83,189.27L309.85,187.37L309.87,185.47L309.89,183.57L309.90,181.68L309.92,179.78L309.94,177.88L309.96,175.98L309.98,174.08L310.00,172.19L310.02,170.29L310.04,168.39L310.06,166.49L310.08,164.59L310.09,162.70L310.11,160.80L310.13,158.90L310.15,157.00L310.17,155.10L310.19,153.21L310.21,151.31L310.23,149.41L310.25,147.51L310.27,145.61L310.29,143.72L310.31,141.82L310.33,139.92L310.35,138.02L310.37,136.12L310.40,134.23L310.42,132.33L310.45,130.43L310.48,128.53L310.50,126.63L310.54,124.74L310.57,122.84L310.60,120.94L310.64,119.05L310.68,117.15L310.72,115.25L310.76,113.36L310.80,111.46L310.85,109.56L310.90,107.67L310.96,105.77L311.01,103.88L311.07,101.98L311.14,100.09L311.20,98.19L311.28,96.30L311.35,94.40L311.43,92.51L311.51,90.61L311.60,88.72L311.69,86.83L311.78,84.94L311.88,83.04L311.98,81.15L312.09,79.26L312.21,77.37L312.32,75.48L312.45,73.59L312.58,71.70L312.71,69.81L312.85,67.92L313.00,66.03L313.16,64.14L313.33,62.24L313.54,60.34L313.78,58.43L314.06,56.50L314.40,54.56L314.79,52.60L315.25,50.61L315.78,48.61L316.39,46.73L317.05,45.23L317.75,44.38L318.48,44.40L319.23,45.22L319.99,46.68L320.74,48.60L321.48,50.83L322.19,53.18L322.87,55.50L323.50,57.71L324.10,59.81L324.66,61.82L325.19,63.75L325.69,65.61L326.16,67.42L326.60,69.19L327.01,70.92L327.41,72.64L327.78,74.35L328.14,76.07L328.49,77.80L328.82,79.57L329.14,81.38L329.45,83.23L329.75,85.10L330.04,87.00L330.33,88.92L330.61,90.85L330.89,92.78L331.16,94.70L331.42,96.62L331.68,98.54L331.93,100.45L332.18,102.36L332.43,104.26L332.67,106.17L332.90,108.07L333.13,109.96L333.36,111.86L333.58,113.75L333.80,115.64L334.01,117.53L334.22,119.42L334.42,121.30L334.62,123.19L334.82,125.07L335.01,126.95L335.20,128.83L335.39,130.71L335.57,132.59L335.74,134.47L335.92,136.35L336.09,138.22L336.25,140.10L336.41,141.98L336.57,143.86L336.73,145.74L336.88,147.62L337.03,149.50L337.18,151.39L337.32,153.27L337.46,155.16L337.60,157.04L337.73,158.93L337.86,160.82L337.99,162.71L338.11,164.60L338.24,166.49L338.36,168.39L338.47,170.28L338.58,172.17L338.70,174.07L338.80,175.97L338.91,177.86L339.01,179.76L339.11,181.66L339.20,183.56L339.30,185.45L339.39,187.35L339.48,189.25L339.56,191.15L339.65,193.05L339.73,194.95L339.80,196.85L339.88,198.76L339.95,200.66L340.02,202.56L340.09,204.46L340.15,206.36L340.22,208.26L340.28,210.16L340.33,212.07L340.39,213.97L340.44,215.87L340.49,217.77L340.54,219.67L340.58,221.57L340.63,223.47L340.67,225.37L340.71,227.27L340.74,229.16L340.78,231.06L340.81,232.96L340.84,234.86L340.87,236.75L340.89,238.65L340.92,240.54L340.94,242.43L340.96,244.33L340.97,246.22L340.99,248.11L341.00,250.00" fill="none" stroke="#f0f" stroke-width="1.70" stroke-linejoin="round"/>
<path d="M309.30,250.00L309.31,248.10L309.33,246.20L309.34,244.31L309.36,242.41L309.37,240.51L309.39,238.61L309.40,236.72L309.42,234.82L309.44,232.92L309.45,231.02L309.47,229.12L309.48,227.23L309.50,225.33L309.52,223.43L309.53,221.53L309.55,219.63L309.57,217.74L309.58,215.84L309.60,213.94L309.62,212.04L309.63,210.15L309.65,208.25L309.67,206.35L309.69,204.45L309.70,202.55L309.72,200.66L309.74,198.76L309.76,196.86L309.78,194.96L309.79,193.06L309.81,191.17L309.83,189.27L309.85,187.37L309.87,185.47L309.89,183.57L309.90,181.68L309.92,179.78L309.94,177.88L309.96,175.98L309.98,174.08L310.00,172.19L310.02,170.29L310.04,168.39L310.06,166.49L310.08,164.59L310.09,162.70L310.11,160.80L310.13,158.90L310.15,157.00L310.17,155.10L310.19,153.21L310.21,151.31L310.23,149.41L310.25,147.51L310.27,145.61L310.29,143.72L310.31,141.82L310.33,139.92L310.35,138.02L310.37,136.12L310.40,134.23L310.42,132.33L310.45,130.43L310.48,128.53L310.50,126.63L310.54,124.74L310.57,122.84L310.60,120.94L310.64,119.05L310.68,117.15L310.72,115.25L310.76,113.36L310.80,111.46L310.85,109.56L310.90,107.67L310.96,105.77L311.01,103.88L311.07,101.98L311.14,100.09L311.20,98.19L311.28,96.30L311.35,94.40L311.43,92.51L311.51,90.61L311.60,88.72L311.69,86.83L311.78,84.94L311.88,83.04L311.98,81.15L312.09,79.26L312.21,77.37L312.32,75.48L312.45,73.59L312.58,71.70L312.71,69.81L312.85,67.92L313.00,66.03L313.16,64.14L313.33,62.24L313.54,60.34L313.78,58.43L314.06,56.50L314.40,54.56L314.79,52.60L315.25,50.61L315.78,48.61L316.39,46.73L317.05,45.23L317.75,44.38L318.48,44.40L319.23,45.22L319.99,46.68L320.74,48.60L321.48,50.83L322.19,53.18L322.87,55.50L323.50,57.71L324.10,59.81L324.66,61.82L325.19,63.75L325.69,65.61L326.16,67.42L326.60,69.19L327.01,70.92L327.41,72.64L327.78,74.35L328.14,76.07L328.49,77.80L328.82,79.57L329.14,81.38L329.45,83.23L329.75,85.10L330.04,87.00L330.33,88.92L330.61,90.85L330.89,92.78L331.16,94.70L331.42,96.62L331.68,98.54L331.93,100.45L332.18,102.36L332.43,104.26L332.67,106.17L332.90,108.07L333.13,109.96L333.36,111.86L333.58,113.75L333.80,115.64L334.01,117.53L334.22,119.42L334.42,121.30L334.62,123.19L334.82,125.07L335.01,126.95L335.20,128.83L335.39,130.71L335.57,132.59L335.74,134.47L335.92,136.35L336.09,138.22L336.25,140.10L336.41,141.98L336.57,143.86L336.73,145.74L336.88,147.62L337.03,149.50L337.18,151.39L337.32,153.27L337.46,155.16L337.60,157.04L337.73,158.93L337.86,160.82L337.99,162.71L338.11,164.60L338.24,166.49L338.36,168.39L338.47,170.28L338.58,172.17L338.70,174.07L338.80,175.97L338.91,177.86L339.01,179.76L339.11,181.66L339.20,183.56L339.30,185.45L339.39,187.35L339.48,189.25L339.56,191.15L339.65,193.05L339.73,194.95L339.80,196.85L339.88,198.76L339.95,200.66L340.02,202.56L340.09,204.46L340.15,206.36L340.22,208.26L340.28,210.16L340.33,212.07L340.39,213.97L340.44,215.87L340.49,217.77L340.54,219.67L340.58,221.57L340.63,223.47L340.67,225.37L340.71,227.27L340.74,229.16L340.78,231.06L340.81,232.96L340.84,234.86L340.87,236.75L340.89,238.65L340.92,240.54L340.94,242.43L340.96,244.33L340.97,246.22L340.99,248.11L341.00,250.00" fill="none" stroke="#0ff" stroke-width="1.70" stroke-dasharray="6.8 2.4" stroke-linejoin="round"/>
<path d="M54.60,14.95H392.40V250.00H54.60Z" fill="none" stroke="#000" stroke-width="0.9"/>
<path d="M226.25,14.95V250.00" fill="none" stroke="#000" stroke-width="1.3"/>
<path d="M65.33,250.00L65.33,248.30M65.33,14.95L65.33,16.65M76.06,250.00L76.06,246.70M76.06,14.95L76.06,18.25M86.78,250.00L86.78,248.30M86.78,14.95L86.78,16.65M97.51,250.00L97.51,246.70M97.51,14.95L97.51,18.25M108.24,250.00L108.24,248.30M108.24,14.95L108.24,16.65M118.97,250.00L118.97,246.70M118.97,14.95L118.97,18.25M129.70,250.00L129.70,248.30M129.70,14.95L129.70,16.65M140.43,250.00L140.43,246.70M140.43,14.95L140.43,18.25M151.15,250.00L151.15,248.30M151.15,14.95L151.15,16.65M161.88,250.00L161.88,246.70M161.88,14.95L161.88,18.25M172.61,250.00L172.61,248.30M172.61,14.95L172.61,16.65M183.34,250.00L183.34,246.70M183.34,14.95L183.34,18.25M194.07,250.00L194.07,248.30M194.07,14.95L194.07,16.65M204.79,250.00L204.79,246.70M204.79,14.95L204.79,18.25M215.52,250.00L215.52,248.30M215.52,14.95L215.52,16.65M54.60,240.82L56.40,240.82M226.25,240.82L224.45,240.82M54.60,231.42L56.40,231.42M226.25,231.42L224.45,231.42M54.60,222.01L56.40,222.01M226.25,222.01L224.45,222.01M54.60,212.61L56.40,212.61M226.25,212.61L224.45,212.61M54.60,203.21L58.30,203.21M226.25,203.21L222.55,203.21M54.60,193.81L56.40,193.81M226.25,193.81L224.45,193.81M54.60,184.41L56.40,184.41M226.25,184.41L224.45,184.41M54.60,175.00L56.40,175.00M226.25,175.00L224.45,175.00M54.60,165.60L56.40,165.60M226.25,165.60L224.45,165.60M54.60,156.20L58.30,156.20M226.25,156.20L222.55,156.20M54.60,146.80L56.40,146.80M226.25,146.80L224.45,146.80M54.60,137.40L56.40,137.40M226.25,137.40L224.45,137.40M54.60,127.99L56.40,127.99M226.25,127.99L224.45,127.99M54.60,118.59L56.40,118.59M226.25,118.59L224.45,118.59M54.60,109.19L58.30,109.19M226.25,109.19L222.55,109.19M54.60,99.79L56.40,99.79M226.25,99.79L224.45,99.79M54.60,90.39L56.40,90.39M226.25,90.39L224.45,90.39M54.60,80.98L56.40,80.98M226.25,80.98L224.45,80.98M54.60,71.58L56.40,71.58M226.25,71.58L224.45,71.58M54.60,62.18L58.30,62.18M226.25,62.18L222.55,62.18M54.60,52.78L56.40,52.78M226.25,52.78L224.45,52.78M54.60,43.38L56.40,43.38M226.25,43.38L224.45,43.38M54.60,33.97L56.40,33.97M226.25,33.97L224.45,33.97M54.60,24.57L56.40,24.57M226.25,24.57L224.45,24.57M236.63,250.00L236.63,248.30M236.63,14.95L236.63,16.65M247.02,250.00L247.02,246.70M247.02,14.95L247.02,18.25M257.40,250.00L257.40,248.30M257.40,14.95L257.40,16.65M267.79,250.00L267.79,246.70M267.79,14.95L267.79,18.25M278.17,250.00L278.17,248.30M278.17,14.95L278.17,16.65M288.56,250.00L288.56,246.70M288.56,14.95L288.56,18.25M298.94,250.00L298.94,248.30M298.94,14.95L298.94,16.65M309.32,250.00L309.32,246.70M309.32,14.95L309.32,18.25M319.71,250.00L319.71,248.30M319.71,14.95L319.71,16.65M330.09,250.00L330.09,246.70M330.09,14.95L330.09,18.25M340.48,250.00L340.48,248.30M340.48,14.95L340.48,16.65M350.86,250.00L350.86,246.70M350.86,14.95L350.86,18.25M361.25,250.00L361.25,248.30M361.25,14.95L361.25,16.65M371.63,250.00L371.63,246.70M371.63,14.95L371.63,18.25M382.02,250.00L382.02,248.30M382.02,14.95L382.02,16.65M226.25,240.82L228.05,240.82M392.40,240.82L390.60,240.82M226.25,231.42L228.05,231.42M392.40,231.42L390.60,231.42M226.25,222.01L228.05,222.01M392.40,222.01L390.60,222.01M226.25,212.61L228.05,212.61M392.40,212.61L390.60,212.61M226.25,203.21L229.95,203.21M392.40,203.21L388.70,203.21M226.25,193.81L228.05,193.81M392.40,193.81L390.60,193.81M226.25,184.41L228.05,184.41M392.40,184.41L390.60,184.41M226.25,175.00L228.05,175.00M392.40,175.00L390.60,175.00M226.25,165.60L228.05,165.60M392.40,165.60L390.60,165.60M226.25,156.20L229.95,156.20M392.40,156.20L388.70,156.20M226.25,146.80L228.05,146.80M392.40,146.80L390.60,146.80M226.25,137.40L228.05,137.40M392.40,137.40L390.60,137.40M226.25,127.99L228.05,127.99M392.40,127.99L390.60,127.99M226.25,118.59L228.05,118.59M392.40,118.59L390.60,118.59M226.25,109.19L229.95,109.19M392.40,109.19L388.70,109.19M226.25,99.79L228.05,99.79M392.40,99.79L390.60,99.79M226.25,90.39L228.05,90.39M392.40,90.39L390.60,90.39M226.25,80.98L228.05,80.98M392.40,80.98L390.60,80.98M226.25,71.58L228.05,71.58M392.40,71.58L390.60,71.58M226.25,62.18L229.95,62.18M392.40,62.18L388.70,62.18M226.25,52.78L228.05,52.78M392.40,52.78L390.60,52.78M226.25,43.38L228.05,43.38M392.40,43.38L390.60,43.38M226.25,33.97L228.05,33.97M392.40,33.97L390.60,33.97M226.25,24.57L228.05,24.57M392.40,24.57L390.60,24.57" fill="none" stroke="#000" stroke-width="0.6"/>
<text x="46.30" y="253.80" font-size="11.60" text-anchor="end" textLength="5.80" lengthAdjust="spacingAndGlyphs">0</text>
<text x="46.30" y="206.79" font-size="11.60" text-anchor="end" textLength="15.20" lengthAdjust="spacingAndGlyphs">0.1</text>
<text x="46.30" y="159.78" font-size="11.60" text-anchor="end" textLength="15.20" lengthAdjust="spacingAndGlyphs">0.2</text>
<text x="46.30" y="112.77" font-size="11.60" text-anchor="end" textLength="15.20" lengthAdjust="spacingAndGlyphs">0.3</text>
<text x="46.30" y="65.76" font-size="11.60" text-anchor="end" textLength="15.20" lengthAdjust="spacingAndGlyphs">0.4</text>
<text x="46.30" y="18.75" font-size="11.60" text-anchor="end" textLength="15.20" lengthAdjust="spacingAndGlyphs">0.5</text>
<text x="56.40" y="266.30" font-size="11.60" text-anchor="middle" textLength="5.80" lengthAdjust="spacingAndGlyphs">0</text>
<text x="77.93" y="266.30" font-size="11.60" text-anchor="middle" textLength="15.20" lengthAdjust="spacingAndGlyphs">0.5</text>
<text x="99.46" y="266.30" font-size="11.60" text-anchor="middle" textLength="5.80" lengthAdjust="spacingAndGlyphs">1</text>
<text x="120.99" y="266.30" font-size="11.60" text-anchor="middle" textLength="15.20" lengthAdjust="spacingAndGlyphs">1.5</text>
<text x="142.52" y="266.30" font-size="11.60" text-anchor="middle" textLength="5.80" lengthAdjust="spacingAndGlyphs">2</text>
<text x="164.05" y="266.30" font-size="11.60" text-anchor="middle" textLength="15.20" lengthAdjust="spacingAndGlyphs">2.5</text>
<text x="185.58" y="266.30" font-size="11.60" text-anchor="middle" textLength="5.80" lengthAdjust="spacingAndGlyphs">3</text>
<text x="207.11" y="266.30" font-size="11.60" text-anchor="middle" textLength="15.20" lengthAdjust="spacingAndGlyphs">3.5</text>
<text x="228.70" y="266.30" font-size="11.60" text-anchor="middle" textLength="5.80" lengthAdjust="spacingAndGlyphs">0</text>
<text x="249.36" y="266.30" font-size="11.60" text-anchor="middle" textLength="15.20" lengthAdjust="spacingAndGlyphs">0.5</text>
<text x="270.02" y="266.30" font-size="11.60" text-anchor="middle" textLength="5.80" lengthAdjust="spacingAndGlyphs">1</text>
<text x="290.68" y="266.30" font-size="11.60" text-anchor="middle" textLength="15.20" lengthAdjust="spacingAndGlyphs">1.5</text>
<text x="311.34" y="266.30" font-size="11.60" text-anchor="middle" textLength="5.80" lengthAdjust="spacingAndGlyphs">2</text>
<text x="332.00" y="266.30" font-size="11.60" text-anchor="middle" textLength="15.20" lengthAdjust="spacingAndGlyphs">2.5</text>
<text x="352.66" y="266.30" font-size="11.60" text-anchor="middle" textLength="5.80" lengthAdjust="spacingAndGlyphs">3</text>
<text x="373.32" y="266.30" font-size="11.60" text-anchor="middle" textLength="15.20" lengthAdjust="spacingAndGlyphs">3.5</text>
<text x="393.98" y="266.30" font-size="11.60" text-anchor="middle" textLength="5.80" lengthAdjust="spacingAndGlyphs">4</text>
<text x="127.00" y="284.50" font-size="12.20" textLength="8.00" lengthAdjust="spacingAndGlyphs" class="i">ω</text>
<text x="138.60" y="284.50" font-size="12.20" textLength="14.00" lengthAdjust="spacingAndGlyphs">[Γ]</text>
<text x="297.00" y="284.50" font-size="12.20" textLength="7.60" lengthAdjust="spacingAndGlyphs" class="i">ω</text>
<text x="307.40" y="284.50" font-size="12.20" textLength="14.40" lengthAdjust="spacingAndGlyphs">[Γ]</text>
<g transform="translate(13.3,173.4) rotate(-90)">
<text x="0.00" y="0.00" font-size="12.20" textLength="48.40" lengthAdjust="spacingAndGlyphs">Intensity</text>
<text x="54.00" y="0.00" font-size="12.20" textLength="9.60" lengthAdjust="spacingAndGlyphs">[Γ</text>
<text x="66.60" y="-4.70" font-size="8.60" textLength="10.00" lengthAdjust="spacingAndGlyphs">−1</text>
<text x="78.20" y="0.00" font-size="12.20" textLength="2.60" lengthAdjust="spacingAndGlyphs">]</text>
</g>
<text x="101.00" y="29.40" font-size="12.20" textLength="29.60" lengthAdjust="spacingAndGlyphs">Exact</text>
<text x="135.80" y="29.40" font-size="12.20" textLength="9.10" lengthAdjust="spacingAndGlyphs" class="i">Q</text>
<text x="148.90" y="29.40" font-size="12.20" textLength="10.40" lengthAdjust="spacingAndGlyphs">=</text>
<text x="162.80" y="29.40" font-size="12.20" textLength="6.00" lengthAdjust="spacingAndGlyphs">0</text>
<path d="M176.5,26.00H210.6" stroke="#000" stroke-width="1.70"/>
<text x="76.75" y="42.15" font-size="12.20" textLength="30.60" lengthAdjust="spacingAndGlyphs">Order</text>
<text x="113.50" y="42.15" font-size="12.20" textLength="17.60" lengthAdjust="spacingAndGlyphs">128</text>
<text x="135.80" y="42.15" font-size="12.20" textLength="9.10" lengthAdjust="spacingAndGlyphs" class="i">Q</text>
<text x="148.90" y="42.15" font-size="12.20" textLength="10.40" lengthAdjust="spacingAndGlyphs">=</text>
<text x="162.80" y="42.15" font-size="12.20" textLength="6.00" lengthAdjust="spacingAndGlyphs">0</text>
<path d="M176.5,38.75H210.6" stroke="#f00" stroke-width="1.70" stroke-dasharray="6.25 2.3"/>
<text x="86.50" y="54.90" font-size="12.20" textLength="29.60" lengthAdjust="spacingAndGlyphs">Exact</text>
<text x="121.30" y="54.90" font-size="12.20" textLength="9.10" lengthAdjust="spacingAndGlyphs" class="i">Q</text>
<text x="134.40" y="54.90" font-size="12.20" textLength="10.40" lengthAdjust="spacingAndGlyphs">=</text>
<text x="149.40" y="54.90" font-size="12.20" textLength="7.80" lengthAdjust="spacingAndGlyphs" class="i">π</text>
<text x="157.80" y="54.90" font-size="12.20" textLength="5.40" lengthAdjust="spacingAndGlyphs">/</text>
<text x="163.10" y="54.90" font-size="12.20" textLength="5.90" lengthAdjust="spacingAndGlyphs">2</text>
<path d="M176.5,51.50H210.6" stroke="#0f0" stroke-width="1.70"/>
<text x="63.00" y="67.65" font-size="12.20" textLength="30.60" lengthAdjust="spacingAndGlyphs">Order</text>
<text x="99.75" y="67.65" font-size="12.20" textLength="17.60" lengthAdjust="spacingAndGlyphs">128</text>
<text x="122.05" y="67.65" font-size="12.20" textLength="9.10" lengthAdjust="spacingAndGlyphs" class="i">Q</text>
<text x="135.15" y="67.65" font-size="12.20" textLength="10.40" lengthAdjust="spacingAndGlyphs">=</text>
<text x="150.15" y="67.65" font-size="12.20" textLength="7.80" lengthAdjust="spacingAndGlyphs" class="i">π</text>
<text x="158.55" y="67.65" font-size="12.20" textLength="5.40" lengthAdjust="spacingAndGlyphs">/</text>
<text x="163.85" y="67.65" font-size="12.20" textLength="5.90" lengthAdjust="spacingAndGlyphs">2</text>
<path d="M176.5,64.25H210.6" stroke="#00f" stroke-width="1.70" stroke-dasharray="6.25 2.3"/>
<text x="99.00" y="80.40" font-size="12.20" textLength="29.60" lengthAdjust="spacingAndGlyphs">Exact</text>
<text x="133.80" y="80.40" font-size="12.20" textLength="9.10" lengthAdjust="spacingAndGlyphs" class="i">Q</text>
<text x="146.90" y="80.40" font-size="12.20" textLength="10.40" lengthAdjust="spacingAndGlyphs">=</text>
<text x="160.20" y="80.40" font-size="12.20" textLength="8.20" lengthAdjust="spacingAndGlyphs" class="i">π</text>
<path d="M176.5,77.00H210.6" stroke="#f0f" stroke-width="1.70"/>
<text x="75.00" y="93.15" font-size="12.20" textLength="30.60" lengthAdjust="spacingAndGlyphs">Order</text>
<text x="111.75" y="93.15" font-size="12.20" textLength="17.60" lengthAdjust="spacingAndGlyphs">128</text>
<text x="134.05" y="93.15" font-size="12.20" textLength="9.10" lengthAdjust="spacingAndGlyphs" class="i">Q</text>
<text x="147.15" y="93.15" font-size="12.20" textLength="10.40" lengthAdjust="spacingAndGlyphs">=</text>
<text x="160.45" y="93.15" font-size="12.20" textLength="8.20" lengthAdjust="spacingAndGlyphs" class="i">π</text>
<path d="M176.5,89.75H210.6" stroke="#0ff" stroke-width="1.70" stroke-dasharray="6.25 2.3"/>
<rect x="122.2" y="114.2" width="53.7" height="13.4" fill="#fff" stroke="#555" stroke-width="0.7"/>
<text x="124.60" y="124.50" font-size="13.00" textLength="7.20" lengthAdjust="spacingAndGlyphs" class="i">J</text>
<text x="135.60" y="124.50" font-size="13.00" textLength="10.80" lengthAdjust="spacingAndGlyphs">=</text>
<text x="149.40" y="124.50" font-size="13.00" textLength="25.10" lengthAdjust="spacingAndGlyphs">1.5Γ</text>
<rect x="241.4" y="67.4" width="53.7" height="13.1" fill="#fff" stroke="#555" stroke-width="0.7"/>
<text x="243.70" y="77.60" font-size="13.00" textLength="7.20" lengthAdjust="spacingAndGlyphs" class="i">J</text>
<text x="254.90" y="77.60" font-size="13.00" textLength="10.80" lengthAdjust="spacingAndGlyphs">=</text>
<text x="269.00" y="77.60" font-size="13.00" textLength="24.60" lengthAdjust="spacingAndGlyphs">1.9Γ</text>
</svg></body></html>
